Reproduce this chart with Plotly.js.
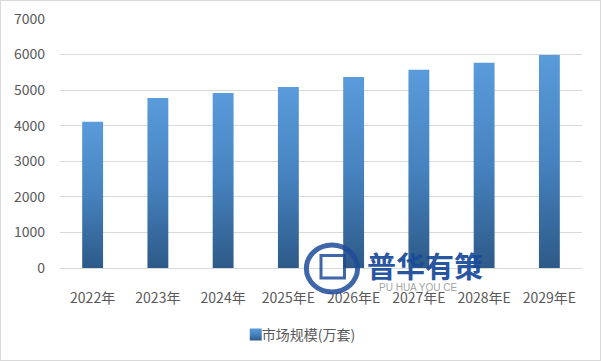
<!DOCTYPE html>
<html><head><meta charset="utf-8">
<script src="https://cdn.plot.ly/plotly-3.0.1.min.js"></script>
<style>
html,body{margin:0;padding:0;background:#fff;}
#chart{width:599px;height:359px;border:1px solid #d9d9d9;}
</style></head>
<body><div id="chart"></div>
<script>
const categories = ["2022年","2023年","2024年","2025年E","2026年E","2027年E","2028年E","2029年E"];
const marketSize = [4110, 4780, 4920, 5090, 5370, 5570, 5770, 5990];
const seriesName = "市场规模(万套)";
const yTicks = [0,1000,2000,3000,4000,5000,6000,7000];

const font = "'Noto Sans CJK SC', 'Noto Sans', sans-serif";
const data = [{
  type: 'bar', x: categories, y: marketSize, name: seriesName,
  marker: {color: '#4a86c3'}, showlegend: true, hoverinfo: 'none'
}];
const layout = {
  width: 599, height: 359,
  margin: {l: 59, r: 18, t: 18, b: 92},
  paper_bgcolor: '#fff', plot_bgcolor: '#fff',
  bargap: 0.68,
  font: {family: font, size: 14, color: '#595959'},
  showlegend: true,
  legend: {orientation: 'h', x: 0.443, xanchor: 'center', yref: 'container', y: 0.07, yanchor: 'middle',
           font: {family: font, size: 14, color: '#595959'}},
  xaxis: {type: 'category', showgrid: false, showline: false, zeroline: false, automargin: false,
          ticks: '', ticklabelstandoff: 20, tickfont: {family: font, size: 14, color: '#595959'}},
  yaxis: {range: [0, 7000], tickvals: yTicks, showgrid: true, gridcolor: '#d9d9d9', gridwidth: 1,
          automargin: false,
          zeroline: true, zerolinecolor: '#d9d9d9', zerolinewidth: 1, showline: false, ticks: '',
          ticklabelstandoff: 14, tickfont: {family: font, size: 14, color: '#595959'}},
  shapes: [
    {type: 'circle', xref: 'paper', yref: 'paper', x0: 0.472, x1: 0.570, y0: -0.096, y1: 0.092,
     line: {color: 'rgba(30,75,155,0.85)', width: 5}},
    {type: 'rect', xref: 'paper', yref: 'paper', x0: 0.500, x1: 0.545, y0: -0.04, y1: 0.05,
     line: {color: 'rgba(30,75,155,0.85)', width: 3}}
  ],
  annotations: [
    {xref: 'paper', yref: 'paper', x: 0.699, y: 0.012, xanchor: 'center', yanchor: 'middle',
     text: '<b>普华有策</b>', showarrow: false,
     font: {family: font, size: 29, color: 'rgba(26,75,155,0.95)'}},
    {xref: 'paper', yref: 'paper', x: 0.686, y: -0.078, xanchor: 'center', yanchor: 'middle',
     text: 'PU HUA YOU CE', showarrow: false,
     font: {family: 'Liberation Sans, sans-serif', size: 10, color: 'rgba(150,150,150,0.9)'}}
  ]
};
Plotly.newPlot('chart', data, layout, {staticPlot: true}).then(function(gd){
  const svg = gd.querySelector('.main-svg');
  let defs = svg.querySelector('defs');
  const ns = 'http://www.w3.org/2000/svg';
  const g = document.createElementNS(ns, 'linearGradient');
  g.setAttribute('id', 'barGrad');
  g.setAttribute('x1', '0'); g.setAttribute('y1', '0'); g.setAttribute('x2', '0'); g.setAttribute('y2', '1');
  [['0%', '#5a9bdb'], ['50%', '#4682bf'], ['100%', '#2d5a88']].forEach(function(s){
    const st = document.createElementNS(ns, 'stop');
    st.setAttribute('offset', s[0]); st.setAttribute('stop-color', s[1]);
    g.appendChild(st);
  });
  defs.appendChild(g);
  gd.querySelectorAll('.trace.bars .point path').forEach(function(p){ p.style.fill = 'url(#barGrad)'; });
  gd.querySelectorAll('.legendpoints path').forEach(function(p){ p.style.fill = 'url(#barGrad)'; });
  gd.querySelectorAll('.legendpoints').forEach(function(lp){
    const t = lp.getAttribute('transform') || '';
    lp.setAttribute('transform', t + ' translate(14,0)');
  });
});
</script></body></html>
